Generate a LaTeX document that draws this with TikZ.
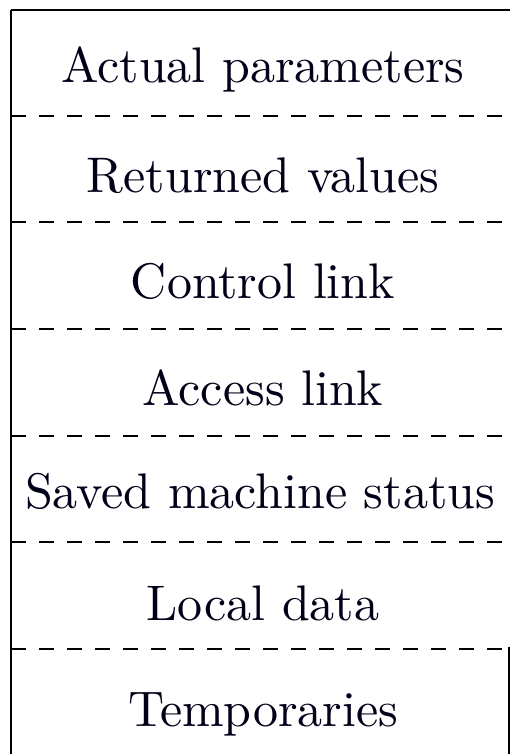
\documentclass[tikz,border=0pt]{standalone}
\begin{document}
\begin{tikzpicture}[x=1pt,y=-1pt,
  border/.style={line width=1.8pt, black},
  sep/.style={line width=1.8pt, black, dash pattern=on 15pt off 13pt},
  lbl/.style={anchor=base, scale=5, inner sep=0pt, text=black!90!blue}]
\useasboundingbox (0,0) rectangle (510,754);
% outer frame
\coordinate (tl) at (11,10);
\coordinate (tr) at (510,10);
\coordinate (bl) at (11,754);
\coordinate (rt) at (509,647);
\coordinate (rb) at (509,754);
\draw[border] (tl) -- (tr);
\draw[border] (tl) -- (bl);
\draw[border] (rt) -- (rb);
% separators
\foreach \i/\y in {1/116,2/222,3/329,4/436,5/542,6/649}{
  \coordinate (s\i l) at (11,\y);
  \coordinate (s\i r) at (510,\y);
  \draw[sep] (s\i l) -- (s\i r);
}
% labels
\node[lbl] (ap) at (263,83) {Actual parameters};
\node[lbl] (rv) at (263,193) {Returned values};
\node[lbl] (cl) at (263,298) {Control link};
\node[lbl] (al) at (263,405) {Access link};
\node[lbl] (sm) at (260,508) {Saved machine status};
\node[lbl] (ld) at (263,620) {Local data};
\node[lbl] (tp) at (263,726) {Temporaries};
\end{tikzpicture}
\end{document}
